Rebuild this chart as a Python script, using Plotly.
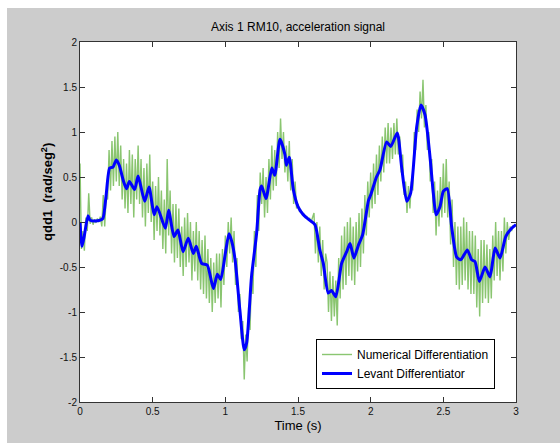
import numpy as np
import plotly.graph_objects as go

# ---- Levant differentiator (blue) : time, value ----
levant_t = [0.000, 0.014, 0.030, 0.055, 0.069, 0.100, 0.140, 0.158, 0.180, 0.204,
            0.227, 0.250, 0.270, 0.300, 0.320, 0.340, 0.376, 0.400, 0.445, 0.475,
            0.510, 0.530, 0.587, 0.610, 0.647, 0.674, 0.709, 0.745, 0.780, 0.800,
            0.837, 0.876, 0.918, 0.945, 0.968, 1.000, 1.025, 1.045, 1.067, 1.100,
            1.130, 1.147, 1.180, 1.215, 1.239, 1.250, 1.280, 1.320, 1.340, 1.376,
            1.410, 1.420, 1.440, 1.468, 1.500, 1.537, 1.580, 1.617, 1.650, 1.674,
            1.708, 1.730, 1.760, 1.800, 1.835, 1.858, 1.885, 1.915, 1.945, 1.985,
            2.000, 2.040, 2.064, 2.110, 2.138, 2.183, 2.213, 2.248, 2.275, 2.317,
            2.346, 2.374, 2.408, 2.431, 2.450, 2.477, 2.500, 2.527, 2.557, 2.592,
            2.620, 2.665, 2.695, 2.718, 2.748, 2.787, 2.821, 2.856, 2.890, 2.930,
            2.970, 3.000]
levant_y = [0.00, -0.27, -0.15, 0.07, 0.02, 0.01, 0.02, 0.04, 0.30, 0.60,
            0.61, 0.69, 0.63, 0.45, 0.37, 0.45, 0.36, 0.51, 0.23, 0.39,
            0.08, 0.17, -0.07, 0.13, -0.16, -0.09, -0.33, -0.18, -0.35, -0.27,
            -0.46, -0.48, -0.74, -0.58, -0.64, -0.35, -0.13, -0.22, -0.42, -0.98,
            -1.42, -1.34, -0.61, -0.13, 0.36, 0.40, 0.26, 0.60, 0.52, 0.92,
            0.75, 0.63, 0.72, 0.36, 0.17, 0.08, 0.02, -0.03, -0.31, -0.46,
            -0.79, -0.76, -0.83, -0.46, -0.33, -0.24, -0.40, -0.26, -0.14, 0.24,
            0.30, 0.50, 0.58, 0.89, 0.84, 0.99, 0.61, 0.23, 0.32, 1.06,
            1.30, 1.19, 0.73, 0.32, 0.08, 0.17, 0.34, 0.37, -0.05, -0.39,
            -0.42, -0.31, -0.42, -0.44, -0.66, -0.50, -0.61, -0.29, -0.40, -0.16,
            -0.07, -0.03]

# ---- Numerical differentiation (green), sampled every 0.01 s ----
numeric_dt = 0.01
numeric_y = [
    0.65, -0.30, -0.10, -0.32, 0.05, -0.10, 0.32, -0.02, 0.05, -0.03,
    0.03, -0.01, 0.04, 0.00, 0.06, -0.05, 0.30, -0.05, 0.28, 0.25,
    0.80, 0.35, 0.90, 0.40, 0.95, 0.45, 1.00, 0.40, 0.85, 0.25,
    0.70, 0.15, 0.65, 0.10, 0.80, 0.20, 0.75, 0.05, 0.70, 0.25,
    0.85, 0.20, 0.70, 0.05, 0.60, -0.05, 0.65, 0.10, 0.75, 0.00,
    0.45, -0.20, 0.40, -0.10, 0.50, -0.15, 0.35, -0.30, 0.25, -0.35,
    0.70, -0.15, 0.35, -0.35, 0.20, -0.45, 0.20, -0.40, 0.15, -0.50,
    -0.05, -0.60, 0.05, -0.50, 0.10, -0.45, 0.00, -0.65, -0.10, -0.55,
    0.00, -0.65, -0.10, -0.75, -0.20, -0.80, -0.15, -0.85, -0.30, -0.90,
    -0.40, -1.00, -0.45, -0.90, -0.35, -0.85, -0.35, -0.95, -0.30, -0.70,
    -0.15, -0.50, 0.00, -0.35, 0.05, -0.45, -0.10, -0.70, -0.40, -1.00,
    -0.80, -1.30, -1.10, -1.75, -1.25, -1.55, -0.95, -1.20, -0.55, -0.80,
    -0.10, -0.50, 0.30, -0.10, 0.55, 0.20, 0.60, 0.05, 0.50, 0.10,
    0.70, 0.25, 0.85, 0.35, 0.80, 0.40, 1.00, 0.60, 1.15, 0.70,
    1.00, 0.55, 0.85, 0.45, 0.90, 0.35, 0.70, 0.20, 0.45, 0.15,
    0.20, 0.12, 0.13, 0.08, 0.09, 0.05, 0.06, 0.03, 0.04, 0.00,
    0.05, 0.10, -0.35, 0.00, -0.45, -0.05, -0.60, -0.20, -0.75, -0.35,
    -0.45, -1.00, -0.55, -1.10, -0.60, -1.05, -0.65, -1.15, -0.40, -0.85,
    -0.15, -0.75, -0.05, -0.70, 0.00, -0.60, 0.05, -0.65, -0.05, -0.70,
    0.00, -0.55, 0.10, -0.50, 0.15, -0.35, 0.30, -0.15, 0.45, 0.05,
    0.55, 0.15, 0.65, 0.20, 0.75, 0.30, 0.85, 0.45, 0.95, 0.55,
    1.05, 0.65, 1.10, 0.65, 1.05, 0.70, 1.10, 0.75, 1.15, 0.75,
    0.95, 0.55, 0.75, 0.30, 0.45, 0.10, 0.40, 0.15, 0.45, 0.35,
    1.00, 0.80, 1.25, 1.00, 1.45, 1.15, 1.58, 1.05, 1.30, 0.80,
    1.00, 0.45, 0.70, 0.10, 0.45, -0.15, 0.35, -0.05, 0.50, 0.05,
    0.65, 0.10, 0.70, 0.05, 0.45, -0.25, 0.25, -0.50, 0.00, -0.70,
    -0.05, -0.75, -0.05, -0.70, 0.05, -0.65, 0.00, -0.75, -0.10, -0.80,
    -0.10, -0.80, -0.15, -0.95, -0.30, -1.05, -0.20, -0.90, -0.20, -0.85,
    -0.25, -0.90, -0.30, -0.85, -0.15, -0.65, 0.00, -0.60, -0.10, -0.65,
    -0.10, -0.55, 0.05, -0.35, 0.00, -0.20, -0.05, -0.10, -0.04, -0.04, -0.03,
]
numeric_t = [round(i * numeric_dt, 2) for i in range(len(numeric_y))]

x_ticks = [0, 0.5, 1, 1.5, 2, 2.5, 3]
x_ticklabels = ["0", "0.5", "1", "1.5", "2", "2.5", "3"]
y_ticks = [-2, -1.5, -1, -0.5, 0, 0.5, 1, 1.5, 2]
y_ticklabels = ["-2", "-1.5", "-1", "-0.5", "0", "0.5", "1", "1.5", "2"]

FONT = "Liberation Sans, Arial, sans-serif"

fig = go.Figure()
fig.add_trace(go.Scatter(
    x=numeric_t, y=numeric_y, mode="lines", name="Numerical Differentiation",
    line=dict(color="rgb(118,188,88)", width=1.4), opacity=0.85))
fig.add_trace(go.Scatter(
    x=levant_t, y=levant_y, mode="lines", name="Levant Differentiator",
    line=dict(color="rgb(0,0,255)", width=3, shape="spline", smoothing=0.6)))

# plot area: x 80..516, y 42..402 px in a 560x443 canvas
L, R, T, B = 80, 44, 42, 41
W, H = 560 - L - R, 443 - T - B

def px_x(p):
    return (p - L) / W

def px_y(p):
    return (443 - B - p) / H

fig.add_shape(type="rect", xref="paper", yref="paper",
              x0=px_x(7), x1=px_x(560), y0=px_y(443), y1=px_y(8),
              fillcolor="#cccccc", line=dict(width=0), layer="below")
fig.add_shape(type="rect", xref="paper", yref="paper",
              x0=0, x1=1, y0=0, y1=1,
              fillcolor="white", line=dict(width=0), layer="below")

axis_common = dict(showline=True, linecolor="#333333", linewidth=1, mirror="ticks",
                   ticks="inside", ticklen=5, tickcolor="#333333", showgrid=False,
                   zeroline=False, tickfont=dict(family=FONT, size=10, color="#111111"))
fig.update_xaxes(range=[0, 3], tickvals=x_ticks, ticktext=x_ticklabels,
                 title=dict(text="Time (s)", font=dict(family=FONT, size=13, color="black"),
                            standoff=4),
                 **axis_common)
fig.update_yaxes(range=[-2, 2], tickvals=y_ticks, ticktext=y_ticklabels, **axis_common)

fig.add_annotation(xref="paper", yref="paper", x=px_x(47), y=px_y(192),
                   xanchor="center", yanchor="middle",
                   text="<b>qdd1  (rad/seg<sup>2</sup>)</b>", textangle=-90,
                   showarrow=False, font=dict(family=FONT, size=13, color="black"))

fig.update_layout(
    width=560, height=443,
    margin=dict(l=L, r=R, t=T, b=B, pad=0),
    paper_bgcolor="white", plot_bgcolor="white",
    title=dict(text="Axis 1 RM10, acceleration signal", x=0.5, xref="paper",
               y=1 - 27 / 443, yanchor="middle",
               font=dict(family=FONT, size=12, color="black")),
    legend=dict(x=px_x(495), y=px_y(389), xanchor="right", yanchor="bottom",
                bgcolor="white", bordercolor="black", borderwidth=1,
                font=dict(family=FONT, size=12, color="black"),
                tracegroupgap=0, itemwidth=30),
    showlegend=True,
)

fig.write_html("out.html")
